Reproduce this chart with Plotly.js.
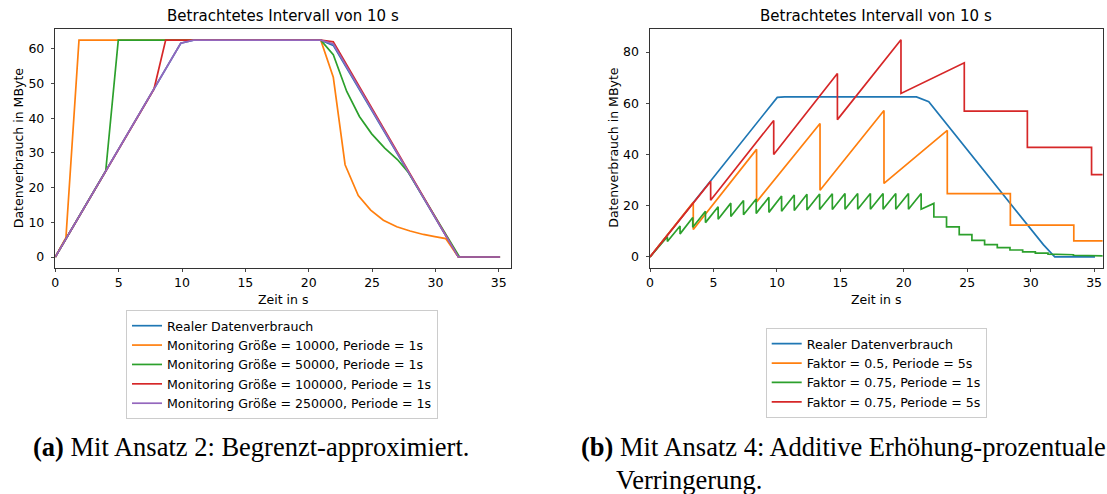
<!DOCTYPE html>
<html>
<head>
<meta charset="utf-8">
<script src="https://cdn.plot.ly/plotly-3.0.1.min.js"></script>
<style>
  html, body { margin: 0; padding: 0; background: #ffffff; }
  #chart { width: 1107px; height: 494px; }
</style>
</head>
<body>
<div id="chart"></div>
<script>
// ---------- (a) Ansatz 2: Begrenzt-approximiert ----------
const realTimeA = [0, 9.9, 10.9, 20.95, 21.94, 31.81, 35.1];
const realValA  = [0, 61.6, 62.5, 62.5, 61.0, 0, 0];

const size10kTime = [0, 0.84, 1.87, 20.95, 21.94, 22.87, 23.91, 24.89, 25.89, 26.95, 28.0, 29.05, 29.95, 30.81, 31.81, 35.1];
const size10kVal  = [0, 5.6, 62.5, 62.5, 51.8, 26.6, 17.7, 13.5, 10.6, 8.7, 7.5, 6.5, 5.9, 5.3, 0, 0];

const size50kTime = [0, 3.98, 4.97, 20.95, 21.94, 23.0, 24.0, 24.97, 26.0, 27.0, 27.9, 31.9, 35.1];
const size50kVal  = [0, 24.8, 62.5, 62.5, 58.3, 47.7, 40.5, 35.5, 31.4, 28.1, 24.2, 0, 0];

const size100kTime = [0, 7.79, 8.71, 20.95, 21.94, 31.81, 35.1];
const size100kVal  = [0, 48.4, 62.5, 62.5, 62.0, 0, 0];

const size250kTime = [0, 9.9, 10.9, 20.95, 21.94, 31.81, 35.1];
const size250kVal  = [0, 61.6, 62.5, 62.5, 61.4, 0, 0];

const legendNamesA = [
  "Realer Datenverbrauch",
  "Monitoring Größe = 10000, Periode = 1s",
  "Monitoring Größe = 50000, Periode = 1s",
  "Monitoring Größe = 100000, Periode = 1s",
  "Monitoring Größe = 250000, Periode = 1s"
];

// ---------- (b) Ansatz 4: Additive Erhöhung / prozentuale Verringerung ----------
const realTimeB = [0, 10.03, 10.6, 21.0, 21.97, 31.0, 31.9, 35.07];
const realValB  = [0, 62.3, 62.5, 62.5, 60.6, 4.8, 0, 0];

// Faktor 0.5, Periode 5s: value just before and just after each reduction
const f05p5Drops  = [3.41, 8.4, 13.4, 18.44, 23.43, 28.4, 33.4];
const f05p5Before = [21.3, 42.0, 52.1, 57.2, 49.4, 24.7, 12.4];
const f05p5After  = [10.7, 21.5, 26.0, 28.7, 24.7, 12.4, 6.3];

// Faktor 0.75, Periode 1s
const f075p1Drops  = [1.37, 2.37, 3.37, 4.37, 5.37, 6.37, 7.37, 8.37, 9.37, 10.37, 11.37, 12.37,
                      13.37, 14.37, 15.37, 16.37, 17.37, 18.37, 19.37, 20.37, 21.37, 22.37, 23.37,
                      24.37, 25.37, 26.37, 27.37, 28.37, 29.37, 30.37, 31.37, 32.37, 33.37, 34.37, 35.37];
const f075p1Before = [7.9, 12.1, 15.4, 17.8, 19.6, 21.0, 22.0, 22.6, 23.3, 23.8, 24.2, 24.5,
                      24.6, 24.7, 24.8, 24.8, 24.8, 24.8, 24.8, 24.8, 24.8, 20.9, 15.6,
                      11.7, 8.7, 6.5, 4.8, 3.6, 2.7, 2.0, 1.5, 1.1, 0.85, 0.65, 0.5];
const f075p1After  = [6.0, 9.0, 11.6, 13.4, 14.7, 15.8, 16.5, 17.0, 17.4, 17.8, 18.1, 18.3,
                      18.5, 18.5, 18.6, 18.6, 18.6, 18.6, 18.6, 18.6, 18.6, 15.6, 11.7,
                      8.7, 6.5, 4.8, 3.6, 2.7, 2.0, 1.5, 1.1, 0.85, 0.65, 0.5, 0.4];

// Faktor 0.75, Periode 5s
const f075p5Drops  = [4.78, 9.75, 14.77, 19.78, 24.77, 29.74, 34.8];
const f075p5Before = [29.5, 53.3, 71.6, 84.8, 75.8, 56.9, 42.8];
const f075p5After  = [22.1, 40.0, 53.6, 63.8, 56.9, 42.8, 32.1];

const seriesEndB = 36;

const legendNamesB = [
  "Realer Datenverbrauch",
  "Faktor = 0.5, Periode = 5s",
  "Faktor = 0.75, Periode = 1s",
  "Faktor = 0.75, Periode = 5s"
];

const tab10 = ["#1f77b4", "#ff7f0e", "#2ca02c", "#d62728", "#9467bd"];

// Turn reduction events into a polyline: rise to "before", drop vertically to "after".
function sawtooth(drops, before, after, tEnd) {
  const x = [0], y = [0];
  for (let i = 0; i < drops.length; i++) {
    x.push(drops[i], drops[i]);
    y.push(before[i], after[i]);
  }
  x.push(tEnd);
  y.push(after[after.length - 1]);
  return { x, y };
}

const W = 1107, H = 494;
const px = v => v / W;
const py = v => 1 - v / H;

const lineW = 1.7;
function trace(x, y, name, color, xa, ya, legend) {
  return {
    type: "scatter", mode: "lines", x, y, name,
    line: { color, width: lineW },
    xaxis: xa, yaxis: ya, legend,
    hoverinfo: "skip"
  };
}

const sA = [[realTimeA, realValA], [size10kTime, size10kVal], [size50kTime, size50kVal],
            [size100kTime, size100kVal], [size250kTime, size250kVal]];
const tracesA = sA.map((s, i) => trace(s[0], s[1], legendNamesA[i], tab10[i], "x", "y", "legend"));

const b1 = sawtooth(f05p5Drops, f05p5Before, f05p5After, seriesEndB);
const b2 = sawtooth(f075p1Drops, f075p1Before, f075p1After, seriesEndB);
const b3 = sawtooth(f075p5Drops, f075p5Before, f075p5After, seriesEndB);
const tracesB = [
  trace(realTimeB, realValB, legendNamesB[0], tab10[0], "x2", "y2", "legend2"),
  trace(b1.x, b1.y, legendNamesB[1], tab10[1], "x2", "y2", "legend2"),
  trace(b2.x, b2.y, legendNamesB[2], tab10[2], "x2", "y2", "legend2"),
  trace(b3.x, b3.y, legendNamesB[3], tab10[3], "x2", "y2", "legend2")
];

const FONT = "DejaVu Sans, sans-serif";
const tickFont = { family: FONT, size: 12.5, color: "#000" };

function axis(domain, range, dtick, anchor, standoff) {
  return {
    domain, range, dtick, anchor,
    showgrid: false, zeroline: false,
    showline: true, mirror: true, linecolor: "#333", linewidth: 1,
    ticks: "outside", ticklen: 3.5, tickwidth: 0.9, tickcolor: "#333",
    ticklabelstandoff: standoff,
    tickfont: tickFont, fixedrange: true
  };
}

const yDom = [py(267.7), py(28.7)];

const legendStyle = {
  bgcolor: "rgba(255,255,255,0.8)", bordercolor: "#cccccc", borderwidth: 1,
  font: { family: FONT, size: 12.6, color: "#000" },
  xanchor: "left", yanchor: "top", xref: "paper", yref: "paper",
  tracegroupgap: 0
};

function label(text, x, y, size, angle) {
  return {
    text, x: px(x), y: py(y), xref: "paper", yref: "paper",
    showarrow: false, xanchor: "center", yanchor: "middle",
    textangle: angle || 0,
    font: { family: FONT, size, color: "#000" }
  };
}

function caption(text, x, y) {
  return {
    text, x: px(x), y: py(y), xref: "paper", yref: "paper",
    showarrow: false, xanchor: "left", yanchor: "middle",
    font: { family: "Liberation Serif, Times New Roman, serif", size: 26.5, color: "#000" }
  };
}

const layout = {
  width: W, height: H,
  margin: { l: 0, r: 0, t: 0, b: 0 },
  paper_bgcolor: "#ffffff", plot_bgcolor: "#ffffff",
  showlegend: true,
  xaxis: axis([px(55.3), px(510.7)], [0, 35.94], 5, "y", 0),
  yaxis: axis(yDom, [-3.08, 65.8], 10, "x", 4),
  xaxis2: axis([px(650), px(1102.6)], [0, 35.67], 5, "y2", 0),
  yaxis2: axis(yDom, [-4.2, 89.1], 20, "x2", 4),
  legend: Object.assign({ x: px(126), y: py(310) }, legendStyle),
  legend2: Object.assign({ x: px(765.7), y: py(328) }, legendStyle),
  annotations: [
    label("Betrachtetes Intervall von 10 s", 283, 16, 15),
    label("Betrachtetes Intervall von 10 s", 876.3, 16, 15),
    label("Zeit in s", 283, 299, 12.5),
    label("Zeit in s", 876.3, 299, 12.5),
    label("Datenverbrauch in MByte", 18, 148.2, 12.5, -90),
    label("Datenverbrauch in MByte", 613.5, 148.2, 12.5, -90),
    caption("<b>(a)</b> Mit Ansatz 2: Begrenzt-approximiert.", 30.5, 447),
    caption("<b>(b)</b> Mit Ansatz 4: Additive Erhöhung-prozentuale", 579, 447),
    caption("Verringerung.", 614, 480)
  ]
};

Plotly.newPlot("chart", tracesA.concat(tracesB), layout, { displayModeBar: false, staticPlot: true });
</script>
</body>
</html>
